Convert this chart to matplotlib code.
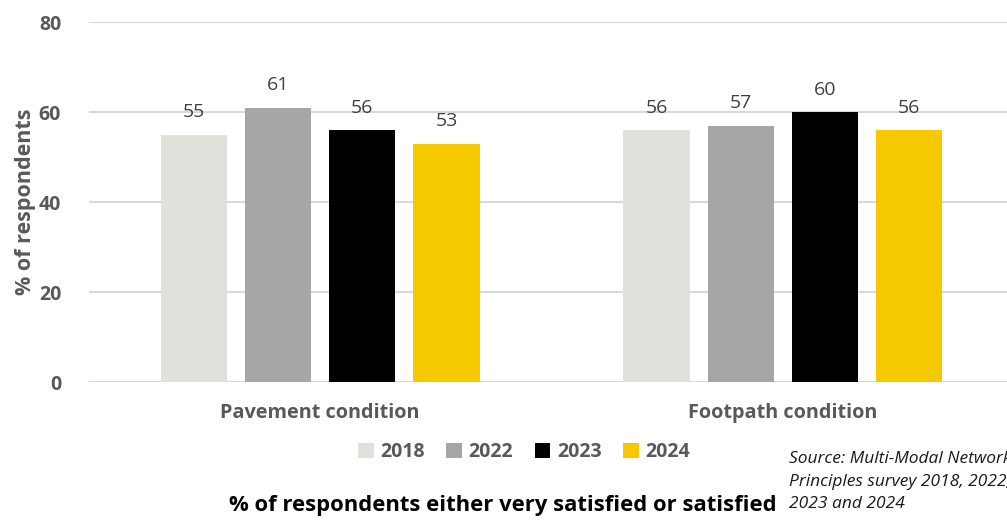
import numpy as np
import matplotlib.pyplot as plt
from matplotlib.patches import Patch

plt.rcParams['font.family'] = ['Open Sans', 'DejaVu Sans']

# data
categories = ['Pavement condition', 'Footpath condition']
years = ['2018', '2022', '2023', '2024']
values = {
    '2018': [55, 56],
    '2022': [61, 57],
    '2023': [56, 60],
    '2024': [53, 56],
}
colors = ['#e1e1dc', '#a6a6a6', '#000000', '#f5c800']

fig = plt.figure(figsize=(10.07, 5.23), dpi=100)
ax = fig.add_axes([89 / 1007, 141 / 523, 925 / 1007, 360 / 523])

x = np.arange(len(categories))
width = 0.143
step = 0.182

for i, yr in enumerate(years):
    pos = x + (i - 1.5) * step
    bars = ax.bar(pos, values[yr], width=width, color=colors[i], zorder=3, label=yr)
    for b, v in zip(bars, values[yr]):
        ax.text(b.get_x() + b.get_width() / 2, v + 3.0, str(v), ha='center', va='bottom',
                fontsize=14, color='#404040')

ax.set_xlim(-0.5, 1.5)
ax.set_ylim(0, 80)
ax.set_yticks([0, 20, 40, 60, 80])
ax.yaxis.grid(True, color='#d9d9d9', linewidth=1.5, zorder=0)
ax.set_axisbelow(True)
for s in ax.spines.values():
    s.set_visible(False)
ax.tick_params(axis='both', length=0)
ax.tick_params(axis='y', labelsize=14, labelcolor='#595959', pad=20)
for lbl in ax.get_yticklabels():
    lbl.set_fontweight('bold')
ax.set_xticks(x)
ax.set_xticklabels(categories, fontsize=14.3, fontweight='bold', color='#595959')
ax.tick_params(axis='x', pad=15)
ax.set_ylabel('% of respondents', fontsize=15.5, fontweight='bold', color='#595959', labelpad=2)

handles = [Patch(facecolor=c, edgecolor='none') for c in colors]
leg = fig.legend(handles, years, loc='center', bbox_to_anchor=(524 / 1007, 1 - 452 / 523),
                 ncol=4, frameon=False, handlelength=0.8, handleheight=0.8,
                 handletextpad=0.35, columnspacing=1.1,
                 prop={'size': 14, 'weight': 'bold'})
for t in leg.get_texts():
    t.set_color('#595959')

fig.text(503 / 1007, 1 - 506 / 523, '% of respondents either very satisfied or satisfied',
         ha='center', va='center', fontsize=15.8, fontweight='bold', color='#000000')

# source note runs off the right edge, as in the original
fig.text(789 / 1007, 1 - 451 / 523,
         'Source: Multi-Modal Network\nPrinciples survey 2018, 2022,\n2023 and 2024',
         ha='left', va='top', fontsize=12.5, style='italic', color='#1a1a1a',
         linespacing=1.55)

fig.savefig('out.png', dpi=100)
